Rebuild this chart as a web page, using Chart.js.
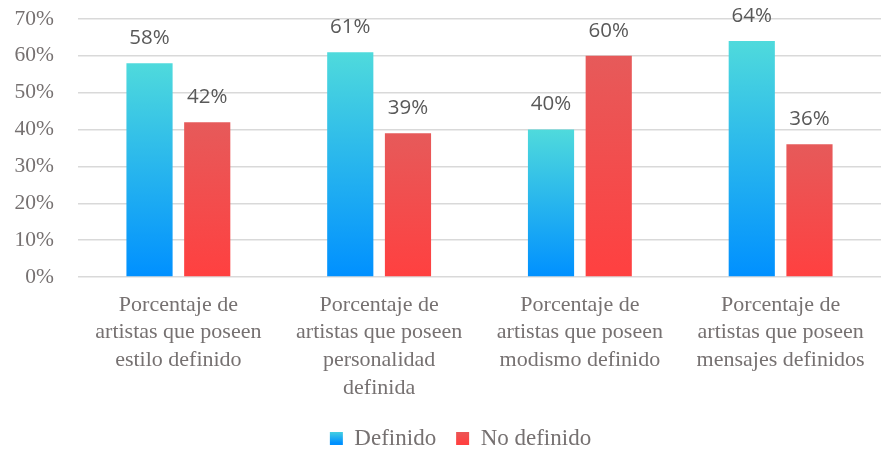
<!DOCTYPE html>
<html>
<head>
<meta charset="utf-8">
<script src="https://cdn.jsdelivr.net/npm/chart.js@4/dist/chart.umd.min.js"></script>
<style>
  html, body { margin: 0; padding: 0; background: #fff; }
  #wrap { width: 881px; height: 451px; }
</style>
</head>
<body>
<div id="wrap"><canvas id="barChart" width="881" height="451"></canvas></div>
<script>
const categories = [
    ["Porcentaje de", "artistas que poseen", "estilo definido"],
    ["Porcentaje de", "artistas que poseen", "personalidad", "definida"],
    ["Porcentaje de", "artistas que poseen", "modismo definido"],
    ["Porcentaje de", "artistas que poseen", "mensajes definidos"]
];
const definido = [58, 61, 40, 64];
const noDefinido = [42, 39, 60, 36];
const yTicks = [0, 10, 20, 30, 40, 50, 60, 70];

const serif = "'Liberation Serif', 'Times New Roman', serif";
const grayText = "#767171";

// vertical gradient running from the top of each bar down to the zero line
function barGradient(top, bottom) {
    return function (context) {
        const chart = context.chart;
        if (!chart.chartArea || context.raw === undefined) return bottom;
        const y = chart.scales.y;
        const g = chart.ctx.createLinearGradient(0, y.getPixelForValue(context.raw), 0, y.getPixelForValue(0));
        g.addColorStop(0, top);
        g.addColorStop(1, bottom);
        return g;
    };
}

const legendColors = [["#4fdadc", "#0090ff"], ["#e65a5a", "#ff4040"]];

const valueLabels = {
    id: "valueLabels",
    afterDatasetsDraw(chart) {
        const c = chart.ctx;
        c.save();
        c.font = "20.5px 'Open Sans', sans-serif";
        c.fillStyle = "#595959";
        c.textAlign = "center";
        c.textBaseline = "middle";
        chart.data.datasets.forEach((ds, i) => {
            chart.getDatasetMeta(i).data.forEach((bar, j) => {
                c.fillText(ds.data[j] + "%", bar.x, bar.y - 25);
            });
        });
        c.restore();
    }
};

// nudge the legend a little to the right of the canvas centre
const legendShift = {
    id: "legendShift",
    afterLayout(chart) {
        chart.legend.left += 20;
        chart.legend.right += 20;
    }
};

const ctx = document.getElementById("barChart").getContext("2d");
new Chart(ctx, {
    type: "bar",
    data: {
        labels: categories,
        datasets: [{
            label: "Definido",
            data: definido,
            backgroundColor: barGradient("#4fdadc", "#0090ff"),
            categoryPercentage: 0.575,
            barPercentage: 0.8
        }, {
            label: "No definido",
            data: noDefinido,
            backgroundColor: barGradient("#e65a5a", "#ff4040"),
            categoryPercentage: 0.575,
            barPercentage: 0.8
        }]
    },
    options: {
        responsive: false,
        animation: false,
        layout: { padding: { top: 19, right: 0, bottom: -9, left: 0 } },
        scales: {
            x: {
                grid: { display: false },
                border: { display: false },
                afterFit(scale) { scale.height = 130; },
                ticks: {
                    color: grayText,
                    font: { family: serif, size: 22, lineHeight: 1.26 },
                    padding: 6,
                    maxRotation: 0,
                    autoSkip: false
                }
            },
            y: {
                min: 0,
                max: 70,
                afterFit(scale) {
                    scale.width = 78;
                    // tick padding only pushes the labels left, keep it out of the vertical layout
                    scale.paddingTop = 0;
                    scale.paddingBottom = 0;
                },
                afterBuildTicks(scale) { scale.ticks = yTicks.map(v => ({ value: v })); },
                grid: { color: "#d9d9d9", lineWidth: 1.5, drawTicks: false },
                border: { display: false },
                ticks: {
                    color: grayText,
                    font: { family: serif, size: 21.5 },
                    padding: 24,
                    callback: v => v + "%"
                }
            }
        },
        plugins: {
            legend: {
                position: "bottom",
                labels: {
                    color: grayText,
                    font: { family: serif, size: 23 },
                    boxWidth: 13,
                    boxHeight: 13,
                    padding: 20,
                    generateLabels(chart) {
                        return chart.data.datasets.map((ds, i) => {
                            const g = chart.ctx.createLinearGradient(0, chart.height - 21, 0, chart.height - 8);
                            g.addColorStop(0, legendColors[i][0]);
                            g.addColorStop(1, legendColors[i][1]);
                            return {
                                text: ds.label,
                                fillStyle: g,
                                strokeStyle: "rgba(0,0,0,0)",
                                lineWidth: 0,
                                fontColor: grayText,
                                datasetIndex: i
                            };
                        });
                    }
                }
            },
            tooltip: { enabled: false }
        }
    },
    plugins: [valueLabels, legendShift]
});
</script>
</body>
</html>
